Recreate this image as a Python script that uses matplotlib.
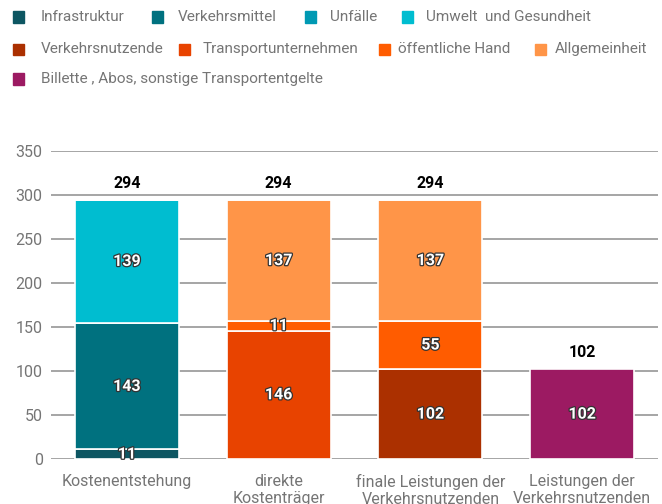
import matplotlib.pyplot as plt
import matplotlib.patheffects as pe
from matplotlib.patches import Rectangle
import numpy as np

plt.rcParams['font.family'] = ['Roboto', 'DejaVu Sans']

categories = ['Kostenentstehung', 'direkte\nKostenträger',
              'finale Leistungen der\nVerkehrsnutzenden', 'Leistungen der\nVerkehrsnutzenden']

# segment name -> values per bar (stacked bottom to top in this order)
segments = {
    'Infrastruktur': [11, 0, 0, 0],
    'Verkehrsmittel': [143, 0, 0, 0],
    'Unfälle': [1, 0, 0, 0],
    'Umwelt und Gesundheit': [139, 0, 0, 0],
    'Verkehrsnutzende': [0, 0, 102, 0],
    'Transportunternehmen': [0, 146, 0, 0],
    'öffentliche Hand': [0, 11, 55, 0],
    'Allgemeinheit': [0, 137, 137, 0],
    'Billette, Abos, sonstige Transportentgelte': [0, 0, 0, 102],
}
totals = [294, 294, 294, 102]

colors = {
    'Infrastruktur': '#0d5662',
    'Verkehrsmittel': '#00717f',
    'Unfälle': '#0099b3',
    'Umwelt und Gesundheit': '#00bdd0',
    'Verkehrsnutzende': '#ab3000',
    'Transportunternehmen': '#e84300',
    'öffentliche Hand': '#ff5c00',
    'Allgemeinheit': '#ff9548',
    'Billette, Abos, sonstige Transportentgelte': '#9c1a62',
}

fig = plt.figure(figsize=(6.62, 5.04), dpi=100)
ax = fig.add_axes([51 / 662, 45 / 504, 607 / 662, 308 / 504])

x = np.arange(len(categories))
bottom = np.zeros(len(categories))
stroke = [pe.withStroke(linewidth=1.8, foreground='#333333')]
for name, vals in segments.items():
    vals = np.array(vals, dtype=float)
    ax.bar(x, vals, 0.684, bottom=bottom, color=colors[name],
           edgecolor='white', linewidth=1.2, zorder=3)
    for xi, v, b in zip(x, vals, bottom):
        if v >= 5:
            ax.text(xi, b + v / 2, f'{int(v)}', ha='center', va='center',
                    fontsize=11.5, fontweight='bold', color='white',
                    path_effects=stroke, zorder=4)
    bottom += vals

for xi, t in zip(x, totals):
    ax.text(xi, t + 19, f'{t}', ha='center', va='center', fontsize=11.5,
            fontweight='bold', color='black')

ax.set_xlim(-0.5, 3.5)
ax.set_ylim(0, 350)
ax.set_yticks(range(0, 351, 50))
ax.set_xticks(x)
ax.set_xticklabels(categories, fontsize=11.5, color='#757575', linespacing=1.15)
ax.tick_params(axis='y', length=0, pad=6, labelsize=11.5, labelcolor='#757575')
ax.tick_params(axis='x', length=0, pad=11)
for s in ax.spines.values():
    s.set_visible(False)
ax.grid(axis='y', color='#9e9e9e', linewidth=1.3, zorder=0)
ax.set_axisbelow(True)

# legend drawn by hand in three rows: (name, square x, text x)
legend_rows = [
    [('Infrastruktur', 13, 41), ('Verkehrsmittel', 152, 178),
     ('Unfälle', 305, 330), ('Umwelt und Gesundheit', 402, 426)],
    [('Verkehrsnutzende', 13, 41), ('Transportunternehmen', 179, 203),
     ('öffentliche Hand', 379, 398), ('Allgemeinheit', 535, 555)],
    [('Billette, Abos, sonstige Transportentgelte', 13, 41)],
]
row_y = [17, 49, 79]
for row, yy in zip(legend_rows, row_y):
    for name, sx, tx in row:
        fig.patches.append(Rectangle((sx / 662, 1 - (yy + 5.5) / 504), 11 / 662, 11 / 504,
                                     transform=fig.transFigure, color=colors[name]))
        label = name
        if name.startswith('Billette'):
            label = 'Billette , Abos, sonstige Transportentgelte'
        elif name.startswith('Umwelt'):
            label = 'Umwelt  und Gesundheit'
        fig.text(tx / 662, 1 - yy / 504, label, fontsize=11, color='#757575',
                 ha='left', va='center')

fig.savefig('out.png', dpi=100)
